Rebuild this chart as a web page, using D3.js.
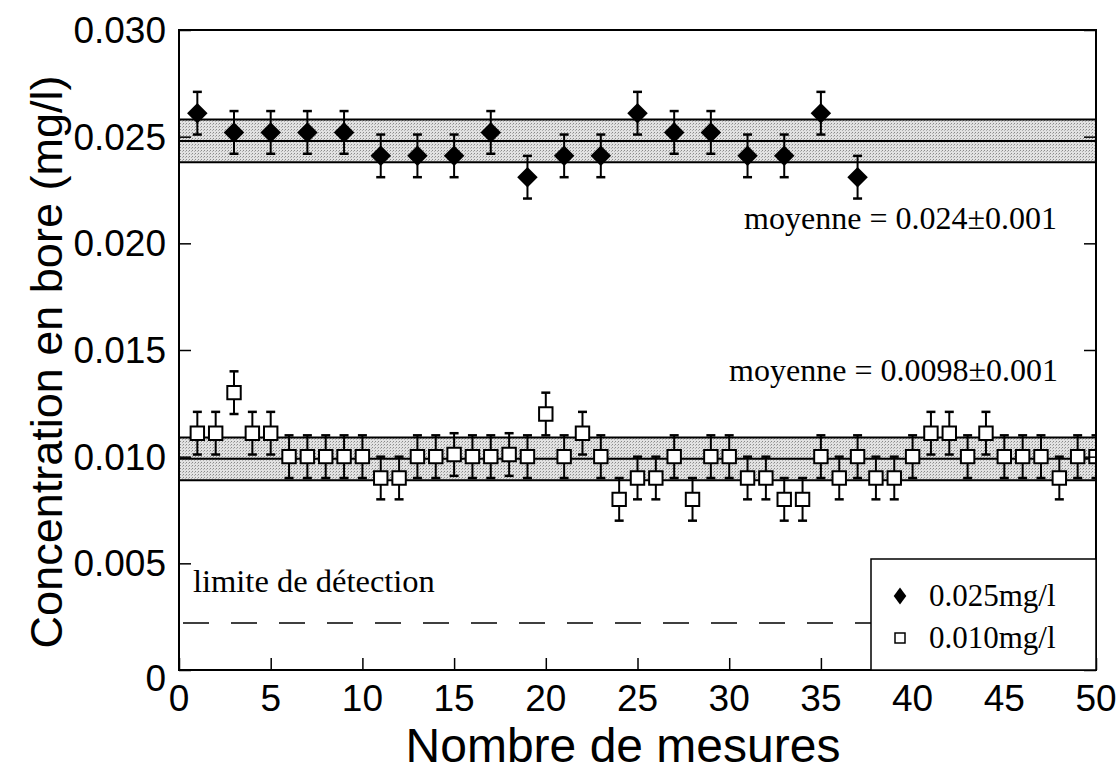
<!DOCTYPE html>
<html><head><meta charset="utf-8">
<script src="https://cdn.jsdelivr.net/npm/d3@7"></script>
<style>body{margin:0;background:#fff}svg{display:block}</style>
</head><body><svg id="c" width="1119" height="775"></svg>
<script>
const xTicks = [0,5,10,15,20,25,30,35,40,45,50];
const yTicks = [0,0.005,0.010,0.015,0.020,0.025,0.030];
const yTickLabels = ["0","0.005","0.010","0.015","0.020","0.025","0.030"];
const seriesNames = ["0.025mg/l","0.010mg/l"];
const highX = [1,3,5,7,9,11,13,15,17,19,21,23,25,27,29,31,33,35,37];
const highY = [0.0261,0.0252,0.0252,0.0252,0.0252,0.0241,0.0241,0.0241,0.0252,0.0231,0.0241,0.0241,0.0261,0.0252,0.0252,0.0241,0.0241,0.0261,0.0231];
const lowX = [1,2,3,4,5,6,7,8,9,10,11,12,13,14,15,16,17,18,19,20,21,22,23,24,25,26,27,28,29,30,31,32,33,34,35,36,37,38,39,40,41,42,43,44,45,46,47,48,49,50];
const lowY = [0.0111,0.0111,0.0130,0.0111,0.0111,0.0100,0.0100,0.0100,0.0100,0.0100,0.0090,0.0090,0.0100,0.0100,0.0101,0.0100,0.0100,0.0101,0.0100,0.0120,0.0100,0.0111,0.0100,0.0080,0.0090,0.0090,0.0100,0.0080,0.0100,0.0100,0.0090,0.0090,0.0080,0.0080,0.0100,0.0090,0.0100,0.0090,0.0090,0.0100,0.0111,0.0111,0.0100,0.0111,0.0100,0.0100,0.0100,0.0090,0.0100,0.0100];
const errHalf = 0.001;
const bandMeans = [0.0248, 0.0099];
const bandHalf = 0.001;
const meanLabels = ["moyenne = 0.024\u00b10.001","moyenne = 0.0098\u00b10.001"];
const detectionLimit = 0.0022;
const detectionLabel = "limite de d\u00e9tection";
const xTitle = "Nombre de mesures";
const yTitle = "Concentration en bore (mg/l)";

const L=179,R=1096,T=30,B=670;
const svg=d3.select("#c");
const x=d3.scaleLinear().domain([0,50]).range([L,R]);
const y=d3.scaleLinear().domain([0,0.030]).range([B,T]);
const sans="'Liberation Sans',Arial,Helvetica,sans-serif";
const serif="'Liberation Serif','Times New Roman',serif";

const defs=svg.append("defs");
const pat=defs.append("pattern").attr("id","stip").attr("width",3).attr("height",3).attr("patternUnits","userSpaceOnUse");
pat.append("rect").attr("width",3).attr("height",3).attr("fill","#e2e2e2");
pat.append("rect").attr("x",0).attr("y",0).attr("width",1).attr("height",1).attr("fill","#8a8a8a");
pat.append("rect").attr("x",2).attr("y",1).attr("width",1).attr("height",1).attr("fill","#b0b0b0");
defs.append("clipPath").attr("id","clip").append("rect").attr("x",L).attr("y",T).attr("width",R-L).attr("height",B-T);

const g=svg.append("g").attr("clip-path","url(#clip)");
// bands
bandMeans.forEach(m=>{
  g.append("rect").attr("x",L).attr("width",R-L).attr("y",y(m+bandHalf)).attr("height",y(m-bandHalf)-y(m+bandHalf)).attr("fill","url(#stip)");
  [m+bandHalf,m,m-bandHalf].forEach(v=>g.append("line").attr("x1",L).attr("x2",R).attr("y1",y(v)).attr("y2",y(v)).attr("stroke","#000").attr("stroke-width",2));
});
// dashed detection limit
g.append("line").attr("x1",L).attr("x2",R).attr("y1",y(detectionLimit)).attr("y2",y(detectionLimit)).attr("stroke","#000").attr("stroke-width",1.5).attr("stroke-dasharray","26,22").attr("stroke-dashoffset",-4);

// axes (inward ticks)
const axB=d3.axisBottom(x).tickValues(xTicks).tickSize(-12).tickFormat("");
const axL=d3.axisLeft(y).tickValues(yTicks).tickSize(-12).tickFormat("");
const axR=d3.axisRight(y).tickValues(yTicks).tickSize(-12).tickFormat("");
[[axB,`translate(0,${B})`],[axL,`translate(${L},0)`],[axR,`translate(${R},0)`]].forEach(([a,t])=>{
  const ag=svg.append("g").attr("transform",t).call(a);
  ag.select(".domain").remove();
  ag.selectAll("line").attr("stroke","#000").attr("stroke-width",1.5);
});
svg.append("rect").attr("x",L).attr("y",T).attr("width",R-L).attr("height",B-T).attr("fill","none").attr("stroke","#000").attr("stroke-width",2);

// tick labels
svg.append("g").selectAll("text").data(xTicks).join("text").attr("x",d=>x(d)).attr("y",711).attr("text-anchor","middle")
  .attr("font-family",sans).attr("font-size",37).text(d=>d);
svg.append("g").selectAll("text").data(yTicks).join("text").attr("x",166).attr("y",(d,i)=>y(d)+(i===0?8:0)).attr("dy","0.35em").attr("text-anchor","end")
  .attr("font-family",sans).attr("font-size",37).text((d,i)=>yTickLabels[i]);
svg.append("text").attr("x",623).attr("y",762).attr("text-anchor","middle").attr("font-family",sans).attr("font-size",48).text(xTitle);
svg.append("text").attr("transform",`translate(62,${(T+B)/2+12}) rotate(-90)`).attr("text-anchor","middle").attr("font-family",sans).attr("font-size",45).text(yTitle);

// annotations
svg.append("text").attr("x",1057).attr("y",229).attr("text-anchor","end").attr("font-family",serif).attr("font-size",32).text(meanLabels[0]);
svg.append("text").attr("x",1058).attr("y",381).attr("text-anchor","end").attr("font-family",serif).attr("font-size",32).text(meanLabels[1]);
svg.append("text").attr("x",193).attr("y",592).attr("font-family",serif).attr("font-size",32.5).text(detectionLabel);

// error bars
function errBars(xs,ys){
  const eg=g.append("g").attr("stroke","#000").attr("stroke-width",2);
  xs.forEach((xv,i)=>{
    const cx=x(xv),y1=y(ys[i]+errHalf),y2=y(ys[i]-errHalf);
    eg.append("line").attr("x1",cx).attr("x2",cx).attr("y1",y1).attr("y2",y2);
    eg.append("line").attr("x1",cx-4.5).attr("x2",cx+4.5).attr("y1",y1).attr("y2",y1).attr("stroke-width",2.5);
    eg.append("line").attr("x1",cx-4.5).attr("x2",cx+4.5).attr("y1",y2).attr("y2",y2).attr("stroke-width",2.5);
  });
}
errBars(lowX,lowY);
errBars(highX,highY);
const sq=d3.symbol().type(d3.symbolSquare);
g.append("g").selectAll("path").data(lowX).join("path").attr("d",sq.size(180)())
  .attr("transform",(d,i)=>`translate(${x(d)},${y(lowY[i])})`).attr("fill","#fff").attr("stroke","#000").attr("stroke-width",2);
g.append("g").selectAll("path").data(highX).join("path").attr("d",d3.symbol().type(d3.symbolSquare).size(210)())
  .attr("transform",(d,i)=>`translate(${x(d)},${y(highY[i])}) rotate(45)`).attr("fill","#000");

// legend
const lx=871, ly=559;
svg.append("rect").attr("x",lx).attr("y",ly).attr("width",R-lx).attr("height",B-ly).attr("fill","#fff").attr("stroke","#000").attr("stroke-width",1.5);
svg.append("path").attr("d",d3.symbol().type(d3.symbolSquare).size(110)()).attr("transform",`translate(900,596) scale(0.85,1.15) rotate(45)`).attr("fill","#000");
svg.append("path").attr("d",d3.symbol().type(d3.symbolSquare).size(100)()).attr("transform",`translate(900,638)`).attr("fill","#fff").attr("stroke","#000").attr("stroke-width",1.5);
svg.append("text").attr("x",929).attr("y",606).attr("font-family",serif).attr("font-size",31).text(seriesNames[0]);
svg.append("text").attr("x",929).attr("y",648).attr("font-family",serif).attr("font-size",31).text(seriesNames[1]);
</script></body></html>
